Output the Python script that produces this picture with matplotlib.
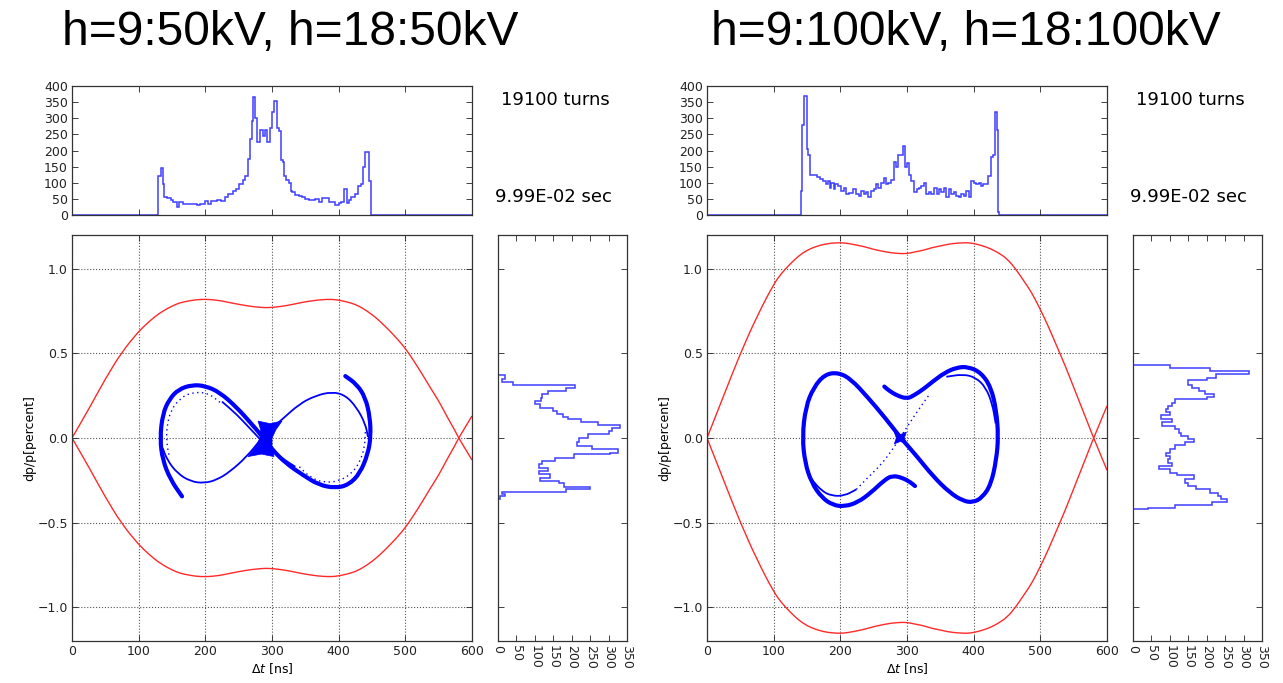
import matplotlib
matplotlib.use("Agg")
import matplotlib.pyplot as plt
from matplotlib.path import Path
from matplotlib.patches import PathPatch

# ---------------- data ----------------
titles = ["h=9:50kV, h=18:50kV", "h=9:100kV, h=18:100kV"]
turns_text = "19100 turns"
time_text = "9.99E-02 sec"

# separatrix (upper branch; lower branch is its mirror)
sep_t = [0, 25, 50, 75, 100, 112, 125, 137, 150, 162, 175, 187, 200, 212, 225, 237, 250,
         262, 275, 290, 300, 312, 325, 337, 350, 362, 375, 390, 400, 412, 425, 437, 450,
         462, 475, 487, 500, 512, 525, 537, 550, 562, 575, 580, 600]
sep_dp_50 = [0, 0.17, 0.35, 0.51, 0.63, 0.675, 0.72, 0.752, 0.78, 0.80, 0.81, 0.818,
             0.82, 0.817, 0.81, 0.80, 0.79, 0.782, 0.775, 0.77, 0.772, 0.777, 0.785,
             0.795, 0.805, 0.812, 0.818, 0.82, 0.815, 0.805, 0.79, 0.765, 0.73, 0.69,
             0.64, 0.59, 0.53, 0.46, 0.38, 0.30, 0.22, 0.13, 0.04, 0.0, -0.13]
sep_dp_100 = [0, 0.25, 0.50, 0.72, 0.91, 0.975, 1.03, 1.075, 1.11, 1.13, 1.145, 1.152,
              1.155, 1.15, 1.14, 1.13, 1.115, 1.105, 1.095, 1.09, 1.09, 1.10, 1.11, 1.125,
              1.135, 1.146, 1.152, 1.155, 1.15, 1.138, 1.12, 1.095, 1.06, 1.005, 0.93,
              0.86, 0.76, 0.66, 0.54, 0.43, 0.30, 0.18, 0.05, 0.0, -0.19]

# top histograms (time profile): step edges [ns] and counts
top_edges_50 = [129, 133, 136, 138, 143, 148, 152, 157, 160, 167, 177, 187, 192, 199, 204,
                209, 217, 224, 229, 234, 241, 246, 251, 256, 260, 264, 267, 270, 272, 275,
                278, 282, 286, 290, 293, 297, 300, 303, 307, 311, 313, 316, 318, 321, 325,
                328, 330, 335, 340, 345, 350, 355, 360, 365, 370, 375, 380, 385, 390, 395,
                400, 404, 408, 412, 415, 419, 424, 429, 433, 437, 440, 446, 449]
top_vals_50 = [120, 145, 95, 55, 52, 45, 40, 25, 40, 33, 35, 30, 35, 43, 35,
               42, 45, 42, 55, 65, 75, 80, 95, 110, 120, 175, 235, 290, 365, 300,
               225, 265, 245, 265, 225, 270, 320, 355, 270, 262, 170, 165, 120, 110, 100,
               75, 72, 62, 60, 55, 50, 45, 45, 50, 40, 52, 52, 40, 40, 32,
               38, 40, 80, 38, 45, 55, 65, 90, 95, 150, 195, 105]
top_edges_100 = [140.6, 142.6, 145.6, 149.5, 152, 154.5, 157, 164.4, 169.4, 174.3, 177.8,
                 180.8, 184.2, 186.7, 190.2, 192.7, 196.6, 201.6, 205.1, 209, 212.5, 218.9,
                 223.9, 227.4, 231.3, 235.3, 238.8, 242.2, 246.2, 250.2, 253.6, 256.1,
                 261.1, 265, 268.5, 272, 276, 279.9, 283.4, 286.8, 289.8, 293.3, 296.8,
                 299.7, 303.2, 306.7, 310.6, 314.6, 318.1, 321.5, 325.5, 329, 332.9, 336.4,
                 340.4, 344.3, 347.8, 351.3, 355.3, 358.7, 362.7, 366.2, 370.1, 373.6,
                 377.6, 381, 385, 388.5, 392.4, 395.9, 399.9, 403.3, 407.3, 410.8, 414.7,
                 418.2, 422.2, 425.6, 428.6, 432.1, 435.6, 437, 438.5]
top_vals_100 = [75, 280, 370, 205, 185, 125, 123, 118, 112, 105, 95, 105, 85, 100, 80,
                95, 90, 75, 85, 65, 68, 80, 65, 60, 75, 65, 70, 55, 75, 80,
                95, 85, 100, 115, 95, 100, 110, 165, 150, 185, 185, 215, 150, 160, 125,
                105, 70, 80, 85, 90, 100, 65, 70, 65, 85, 65, 80, 70, 85, 55,
                80, 65, 70, 60, 55, 65, 60, 75, 55, 105, 100, 95, 100, 90, 95,
                95, 120, 180, 185, 320, 265, 10]

# side histograms (momentum profile): step edges [percent, top->bottom] and counts
side_edges_50 = [0.371, 0.347, 0.333, 0.314, 0.294, 0.278, 0.258, 0.239, 0.219, 0.199,
                 0.180, 0.160, 0.140, 0.126, 0.111, 0.095, 0.075, 0.059, 0.041, 0.022,
                 0.002, -0.024, -0.047, -0.067, -0.087, -0.097, -0.116, -0.136, -0.156,
                 -0.176, -0.195, -0.215, -0.235, -0.254, -0.268, -0.288, -0.304, -0.320,
                 -0.329, -0.343, -0.359]
side_vals_50 = [18, 10, 40, 210, 185, 135, 120, 118, 100, 115, 150, 160, 175, 190, 225,
                270, 330, 310, 300, 245, 220, 215, 255, 325, 305, 205, 155, 120, 110, 135,
                110, 140, 115, 165, 180, 250, 185, 10, 20, 5]
side_edges_100 = [0.430, 0.412, 0.396, 0.377, 0.357, 0.343, 0.314, 0.298, 0.278, 0.258,
                  0.244, 0.229, 0.209, 0.189, 0.174, 0.154, 0.134, 0.114, 0.095, 0.071,
                  0.051, 0.028, 0.012, -0.004, -0.024, -0.043, -0.063, -0.087, -0.107,
                  -0.126, -0.146, -0.166, -0.185, -0.205, -0.221, -0.241, -0.264, -0.284,
                  -0.304, -0.323, -0.343, -0.363, -0.377, -0.399, -0.412, -0.422]
side_vals_100 = [100, 210, 315, 225, 200, 150, 160, 180, 195, 220, 200, 115, 105, 95, 90,
                 100, 75, 105, 80, 115, 125, 130, 150, 165, 140, 115, 100, 90, 100, 95,
                 105, 70, 100, 120, 165, 140, 150, 170, 210, 230, 240, 255, 215, 115, 40]

# particle distribution: (t [ns], dp [percent])
band_50 = [(165, -0.345), (148, -0.248), (136, -0.131), (132, -0.004), (136, 0.142),
           (146, 0.230), (160, 0.288), (180, 0.314), (200, 0.308), (222, 0.269),
           (247, 0.181), (267, 0.094), (284, 0.016), (301, -0.072), (321, -0.150),
           (346, -0.218), (370, -0.277), (395, -0.296), (415, -0.277), (432, -0.209),
           (444, -0.092), (448, 0.006), (447, 0.123), (440, 0.240), (427, 0.318),
           (410, 0.366)]
thin_50_a = [(284, -0.004), (262, -0.111), (237, -0.199), (217, -0.248), (198, -0.267),
             (178, -0.257), (158, -0.209), (143, -0.131), (136, -0.06)]
thin_50_b = [(290, 0.02), (296, 0.045), (316, 0.113), (341, 0.201), (365, 0.250),
             (390, 0.273), (410, 0.253), (427, 0.181), (440, 0.084), (444, 0.006)]
thin_50_c = [(225, 0.215), (247, 0.14), (266, 0.06), (290, -0.04), (315, -0.12),
             (335, -0.17)]
dots_50_a = [(222, 0.211), (203, 0.269), (178, 0.269), (161, 0.230), (148, 0.162),
             (142, 0.064), (142, -0.033), (146, -0.111)]
dots_50_b = [(440, 0.035), (439, -0.053), (432, -0.140), (420, -0.209), (400, -0.257),
             (375, -0.263), (356, -0.228), (341, -0.170)]
core_50 = [(279, 0.10), (297, 0.085), (315, 0.10), (306, 0.05), (300, 0.0),
           (300, -0.05), (303, -0.11), (284, -0.095), (264, -0.11), (276, -0.05),
           (282, 0.0), (283, 0.05)]

band_100 = [(290, 0.004), (266, 0.125), (241, 0.241), (216, 0.348), (197, 0.387),
            (177, 0.377), (160, 0.300), (148, 0.183), (143, 0.008), (147, -0.148),
            (157, -0.265), (172, -0.352), (189, -0.397), (206, -0.405), (226, -0.381),
            (246, -0.323), (266, -0.249), (278, -0.222), (293, -0.235), (305, -0.261),
            (312, -0.284)]
band_100_b = [(290, 0.004), (315, -0.109), (339, -0.226), (364, -0.323), (384, -0.372),
              (399, -0.381), (413, -0.352), (426, -0.274), (434, -0.128), (437, 0.008),
              (434, 0.163), (426, 0.300), (411, 0.387), (391, 0.422), (374, 0.416),
              (357, 0.387), (339, 0.335), (325, 0.290), (310, 0.251), (300, 0.232),
              (285, 0.251), (273, 0.280), (266, 0.304)]
thin_100_a = [(157, -0.245), (172, -0.313), (187, -0.342), (206, -0.342), (224, -0.304)]
dots_100_a = [(224, -0.304), (241, -0.235), (261, -0.158), (278, -0.070), (290, 0.004)]
thin_100_b = [(359, 0.362), (384, 0.377), (403, 0.358), (418, 0.300), (428, 0.202),
              (433, 0.086)]
dots_100_b = [(290, 0.004), (305, 0.095), (320, 0.183), (335, 0.265)]
core_100 = [(281, 0.035), (290, 0.02), (299, 0.035), (296, 0.0), (299, -0.035),
            (290, -0.02), (281, -0.035), (284, 0.0)]

# ---------------- figure ----------------
fig = plt.figure(figsize=(12.83, 6.83), dpi=100)
W, H = 1283.0, 683.0
BLUE = "#0000ff"
HBLUE = "#3f3fff"
RED = "#ff2a2a"


def box(x0, y0, x1, y1):
    return [x0 / W, 1 - y1 / H, (x1 - x0) / W, (y1 - y0) / H]


def style(ax):
    ax.tick_params(direction="in", top=True, right=True, length=4, width=0.6,
                   labelsize=9, colors="#222222", pad=3)
    for s in ax.spines.values():
        s.set_color("#333333")
        s.set_linewidth(0.9)


def smooth(ax, xs, ys, **kw):
    """Draw a smooth quadratic path through the traced points."""
    pts = list(zip(xs, ys))
    verts = [pts[0]]
    codes = [Path.MOVETO]
    if len(pts) > 2:
        m = ((pts[0][0] + pts[1][0]) / 2, (pts[0][1] + pts[1][1]) / 2)
        verts.append(m)
        codes.append(Path.LINETO)
        for k in range(1, len(pts) - 1):
            nm = ((pts[k][0] + pts[k + 1][0]) / 2, (pts[k][1] + pts[k + 1][1]) / 2)
            verts += [pts[k], nm]
            codes += [Path.CURVE3, Path.CURVE3]
    verts.append(pts[-1])
    codes.append(Path.LINETO)
    patch = PathPatch(Path(verts, codes), fill=False, **kw)
    ax.add_patch(patch)


def draw_pts(ax, pts, **kw):
    smooth(ax, [p[0] for p in pts], [p[1] for p in pts], **kw)


panels = [
    dict(title=titles[0], cx=290, sep=sep_dp_50, te=top_edges_50, tv=top_vals_50,
         se=side_edges_50, sv=side_vals_50,
         thick=[band_50], thin=[thin_50_a, thin_50_b, thin_50_c],
         dots=[dots_50_a, dots_50_b], cores=[core_50]),
    dict(title=titles[1], cx=966, sep=sep_dp_100, te=top_edges_100, tv=top_vals_100,
         se=side_edges_100, sv=side_vals_100,
         thick=[band_100, band_100_b], thin=[thin_100_a, thin_100_b],
         dots=[dots_100_a, dots_100_b], cores=[core_100]),
]

for i, p in enumerate(panels):
    ox = 635 * i
    fig.text(p["cx"] / W, 1 - 45 / H, p["title"], ha="center", va="baseline",
             fontsize=34.5, family="Liberation Sans")

    # top histogram
    axt = fig.add_axes(box(72 + ox, 86, 472 + ox, 215))
    edges = [0] + list(p["te"]) + [600]
    vals = [0] + list(p["tv"]) + [0]
    axt.stairs(vals, edges, color=HBLUE, lw=1.1, baseline=None)
    axt.set_xlim(0, 600)
    axt.set_ylim(0, 400)
    axt.set_yticks(range(0, 401, 50))
    axt.set_xticks(range(0, 601, 100))
    axt.set_xticklabels([])
    style(axt)

    fig.text((555 + ox) / W, 1 - 100 / H, turns_text, ha="center", va="center",
             fontsize=13)
    fig.text((553 + ox) / W, 1 - 197 / H, time_text, ha="center", va="center",
             fontsize=13)

    # main phase space
    ax = fig.add_axes(box(72 + ox, 235, 472 + ox, 641))
    smooth(ax, sep_t, p["sep"], edgecolor=RED, lw=1.0)
    smooth(ax, sep_t, [-v for v in p["sep"]], edgecolor=RED, lw=1.0)
    for c in p["cores"]:
        ax.fill([q[0] for q in c], [q[1] for q in c], color=BLUE, lw=0.5)
    for pts in p["thick"]:
        draw_pts(ax, pts, edgecolor=BLUE, lw=3.0, capstyle="round", joinstyle="round")
    for pts in p["thin"]:
        draw_pts(ax, pts, edgecolor=BLUE, lw=1.3)
    for pts in p["dots"]:
        draw_pts(ax, pts, edgecolor=BLUE, lw=1.0, linestyle=(0, (1, 2.5)))
    ax.set_xlim(0, 600)
    ax.set_ylim(-1.2, 1.2)
    ax.set_xticks(range(0, 601, 100))
    ax.set_yticks([-1.0, -0.5, 0.0, 0.5, 1.0])
    ax.grid(True, ls=":", color="#555555", lw=0.8)
    ax.set_axisbelow(True)
    ax.set_xlabel(r"$\Delta t$ [ns]", fontsize=9, labelpad=2)
    ax.set_ylabel("dp/p[percent]", fontsize=9, labelpad=1)
    style(ax)

    # side histogram
    axs = fig.add_axes(box(498 + ox, 235, 627 + ox, 641))
    se = [-1.2] + list(p["se"])[::-1] + [1.2]
    sv = [0] + list(p["sv"])[::-1] + [0]
    axs.stairs(sv, se, orientation="horizontal", color=HBLUE, lw=1.1, baseline=None)
    axs.set_ylim(-1.2, 1.2)
    axs.set_xlim(0, 350)
    axs.set_xticks(range(0, 351, 50))
    axs.set_yticks([-1.0, -0.5, 0.0, 0.5, 1.0])
    axs.set_yticklabels([])
    style(axs)
    for lab in axs.get_xticklabels():
        lab.set_rotation(270)

fig.savefig("out.png", dpi=100)
